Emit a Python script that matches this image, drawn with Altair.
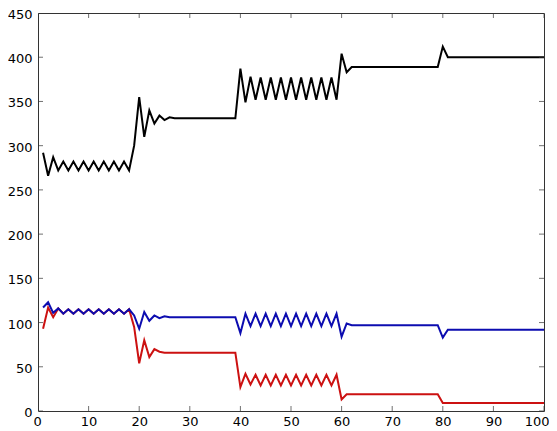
import altair as alt
import pandas as pd

# sample index
x_vals = list(range(1, 101))

black = [292, 266, 287, 272, 282, 272, 282, 272, 282, 272,
         282, 272, 282, 272, 282, 272, 282, 272, 300, 355,
         310, 340, 325, 334, 329, 332, 331, 331, 331, 331,
         331, 331, 331, 331, 331, 331, 331, 331, 331, 387,
         349, 378, 352, 377, 352, 377, 352, 377, 352, 377,
         352, 377, 352, 377, 352, 377, 352, 377, 352, 404,
         383, 389, 389, 389, 389, 389, 389, 389, 389, 389,
         389, 389, 389, 389, 389, 389, 389, 389, 389, 412,
         400, 400, 400, 400, 400, 400, 400, 400, 400, 400,
         400, 400, 400, 400, 400, 400, 400, 400, 400, 400]

blue = [117, 123, 111, 116, 110, 115, 110, 115, 110, 115,
        110, 115, 110, 115, 110, 115, 110, 115, 108, 93,
        112, 102, 108, 105, 107, 106, 106, 106, 106, 106,
        106, 106, 106, 106, 106, 106, 106, 106, 106, 88,
        110, 96, 110, 96, 110, 96, 110, 96, 110, 96,
        110, 96, 110, 96, 110, 96, 110, 96, 110, 84,
        99, 97, 97, 97, 97, 97, 97, 97, 97, 97,
        97, 97, 97, 97, 97, 97, 97, 97, 97, 83,
        92, 92, 92, 92, 92, 92, 92, 92, 92, 92,
        92, 92, 92, 92, 92, 92, 92, 92, 92, 92]

red = [93, 117, 106, 116, 110, 115, 110, 115, 110, 115,
       110, 115, 110, 115, 110, 115, 110, 115, 95, 54,
       80, 61, 70, 67, 66, 66, 66, 66, 66, 66,
       66, 66, 66, 66, 66, 66, 66, 66, 66, 27,
       42, 30, 41, 29, 41, 29, 41, 29, 41, 29,
       41, 29, 41, 29, 41, 29, 41, 29, 41, 13,
       19, 19, 19, 19, 19, 19, 19, 19, 19, 19,
       19, 19, 19, 19, 19, 19, 19, 19, 19, 9,
       9, 9, 9, 9, 9, 9, 9, 9, 9, 9,
       9, 9, 9, 9, 9, 9, 9, 9, 9, 9]

x_ticks = [0, 10, 20, 30, 40, 50, 60, 70, 80, 90, 100]
y_ticks = [0, 50, 100, 150, 200, 250, 300, 350, 400, 450]

FONT = "DejaVu Sans"
FRAME = "#333333"

xs = alt.Scale(domain=[0, 100], nice=False, zero=False)
ys = alt.Scale(domain=[0, 450], nice=False, zero=False)

ax_x = alt.Axis(values=x_ticks, ticks=False, domain=False, grid=False,
                labelPadding=4, labelFont=FONT, labelFontSize=13,
                labelColor="#000000", title=None,
                labelFlush=True, labelFlushOffset=5)
ax_y = alt.Axis(values=y_ticks, ticks=False, domain=False, grid=False,
                labelPadding=6, labelFont=FONT, labelFontSize=13,
                labelColor="#000000", title=None, labelFlush=False,
                labelOffset=1.5)


def series(vals, color):
    df = pd.DataFrame({"x": x_vals, "v": vals})
    return alt.Chart(df).mark_line(color=color, strokeWidth=2).encode(
        x=alt.X("x:Q", scale=xs, axis=ax_x),
        y=alt.Y("v:Q", scale=ys, axis=ax_y),
    )


xt = pd.DataFrame({"t": x_ticks})
yt = pd.DataFrame({"t": y_ticks})

tick_style = dict(size=10, thickness=1, color=FRAME, clip=True)

bottom_ticks = alt.Chart(xt).mark_tick(orient="vertical", **tick_style).encode(
    x=alt.X("t:Q", scale=xs, axis=ax_x), y=alt.YDatum(0, scale=ys, axis=ax_y))
top_ticks = alt.Chart(xt).mark_tick(orient="vertical", **tick_style).encode(
    x=alt.X("t:Q", scale=xs, axis=ax_x), y=alt.YDatum(450, scale=ys, axis=ax_y))
left_ticks = alt.Chart(yt).mark_tick(orient="horizontal", **tick_style).encode(
    y=alt.Y("t:Q", scale=ys, axis=ax_y), x=alt.XDatum(0, scale=xs, axis=ax_x))
right_ticks = alt.Chart(yt).mark_tick(orient="horizontal", **tick_style).encode(
    y=alt.Y("t:Q", scale=ys, axis=ax_y), x=alt.XDatum(100, scale=xs, axis=ax_x))

chart = alt.layer(
    series(black, "#000000"),
    series(red, "#cc1111"),
    series(blue, "#0c0cb0"),
    bottom_ticks, top_ticks, left_ticks, right_ticks,
).properties(
    width=506, height=398,
    autosize=alt.AutoSizeParams(type="none"),
    padding={"left": 30, "top": 5, "right": 5, "bottom": 20},
    background="white",
).configure_view(stroke=FRAME, strokeWidth=1)

chart.save("out.html", embed_options={"renderer": "svg", "actions": False})
